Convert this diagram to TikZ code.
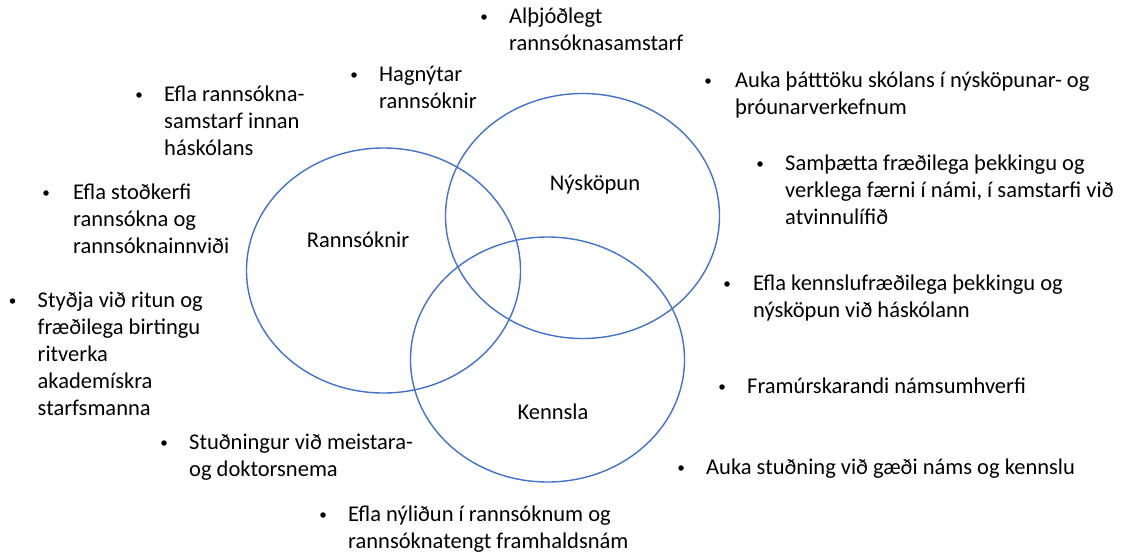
\documentclass[tikz,border=0pt]{standalone}
\usepackage{fontspec}
\setmainfont{Carlito}
\usetikzlibrary{shapes.geometric}
\definecolor{vennblue}{RGB}{68,114,196}
\tikzset{
  venn/.style={ellipse, draw=vennblue, line width=1.4pt,
    minimum width=274pt, minimum height=245pt, inner sep=0pt},
  setname/.style={font=\fontsize{22.5}{27}\selectfont, inner sep=0pt, anchor=base},
  itemtext/.style={font=\fontsize{22.5}{27}\selectfont, inner sep=0pt, anchor=base west},
  itembullet/.style={circle, fill=black, inner sep=0pt, minimum size=5.5pt},
}
% bullet item: name, bullet x, text x, first baseline y, lines
\newcommand\bulletitem[5]{%
  \node[itembullet] (#1b) at (#2,#4-6) {};
  \node[itemtext] (#1) at (#3,#4) {\begin{tabular}[t]{@{}l@{}}#5\end{tabular}};
}
\begin{document}
\begin{tikzpicture}[x=1pt,y=-1pt]
\useasboundingbox (0,0) rectangle (1121,555);

% the three overlapping sets
\node[venn] (rann) at (383.5,270.5) {};
\node[venn] (nysk) at (582.5,216) {};
\node[venn] (kenn) at (547.5,359.5) {};

\node[setname] (rannlbl) at (358,247) {Rannsóknir};
\node[setname] (nysklbl) at (595,190) {Nýsköpun};
\node[setname] (kennlbl) at (553,419) {Kennsla};

% goals around the sets
\bulletitem{a1}{484}{509}{23}{Alþjóðlegt\\rannsóknasamstarf}
\bulletitem{a2}{354}{379}{81}{Hagnýtar\\rannsóknir}
\bulletitem{a3}{139}{164}{101}{Efla rannsókna-\\samstarf innan\\háskólans}
\bulletitem{a4}{46}{73}{199}{Efla stoðkerfi\\rannsókna og\\rannsóknainnviði}
\bulletitem{a5}{12.5}{37.5}{307}{Styðja við ritun og\\fræðilega birtingu\\ritverka\\akademískra\\starfsmanna}
\bulletitem{a6}{164}{189}{449}{Stuðningur við meistara-\\og doktorsnema}
\bulletitem{a7}{323}{348}{521}{Efla nýliðun í rannsóknum og\\rannsóknatengt framhaldsnám}
\bulletitem{a8}{708}{735}{87}{Auka þátttöku skólans í nýsköpunar- og\\þróunarverkefnum}
\bulletitem{a9}{760}{785}{170}{Samþætta fræðilega þekkingu og\\verklega færni í námi, í samstarfi við\\atvinnulífið}
\bulletitem{a10}{727}{753}{290}{Efla kennslufræðilega þekkingu og\\nýsköpun við háskólann}
\bulletitem{a11}{722}{747}{393}{Framúrskarandi námsumhverfi}
\bulletitem{a12}{681}{706}{474}{Auka stuðning við gæði náms og kennslu}
\end{tikzpicture}
\end{document}
